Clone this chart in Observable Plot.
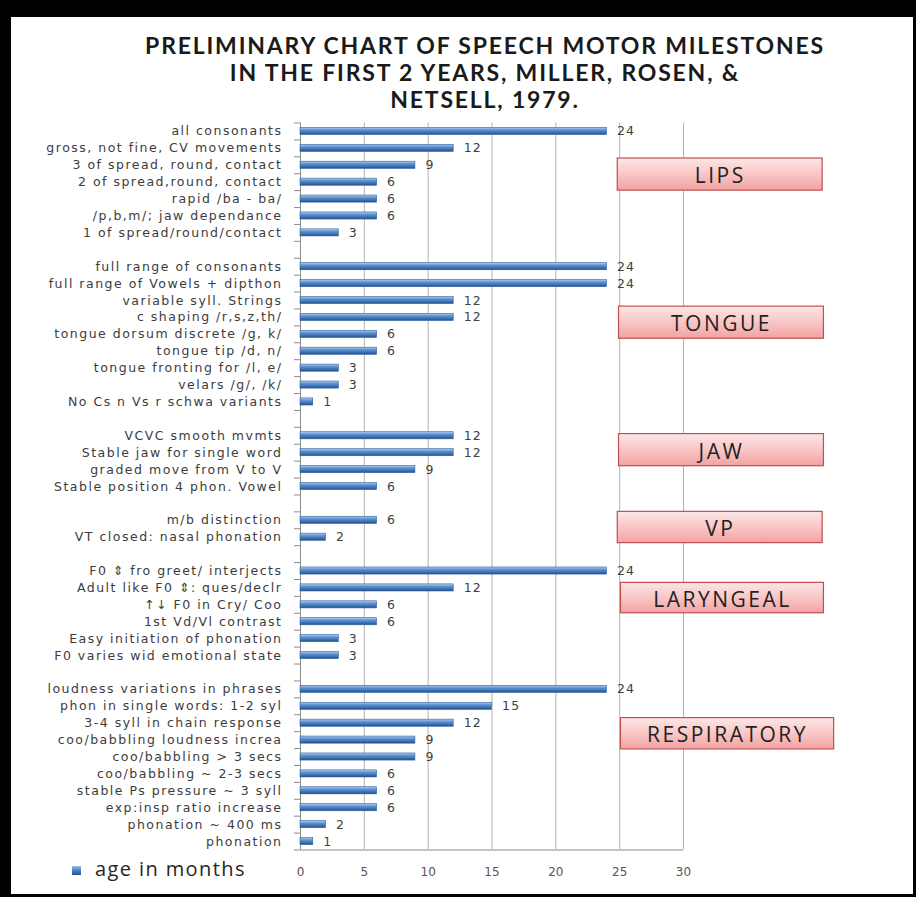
<!DOCTYPE html>
<html>
<head>
<meta charset="utf-8">
<script src="https://cdn.jsdelivr.net/npm/d3@7"></script>
<script src="https://cdn.jsdelivr.net/npm/@observablehq/plot@0.6"></script>
<style>
  html, body { margin: 0; padding: 0; background: #fff; }
  #page { position: relative; width: 916px; height: 897px; background: #000; overflow: hidden; }
  #inner { position: absolute; left: 11px; top: 17px; width: 902px; height: 877px; background: #fff; }
  #title { position: absolute; left: 30px; width: 910px; top: 32px; text-align: center;
           font-family: Lato, "Open Sans", sans-serif; font-weight: 700; font-size: 23px;
           color: #1a1a1a; letter-spacing: 1.8px; }
  #title div { height: 27px; line-height: 27px; }
  #chart { position: absolute; left: 10px; top: 110px; }
  #legend { position: absolute; left: 72px; top: 855px; font-family: "Open Sans", sans-serif;
            font-size: 20px; color: #262626; display: flex; align-items: center; letter-spacing: 1.4px; }
  #legend .sw { width: 9px; height: 9px; margin-right: 14px; margin-top: 3px;
                background: linear-gradient(#9cc0ea, #4a7fc0 50%, #24528a); }
</style>
</head>
<body>
<div id="page">
  <div id="inner"></div>
  <div id="title">
    <div>PRELIMINARY CHART OF SPEECH MOTOR MILESTONES</div>
    <div>IN THE FIRST 2 YEARS, MILLER, ROSEN, &amp;</div>
    <div>NETSELL, 1979.</div>
  </div>
  <div id="chart"></div>
  <div id="legend"><span class="sw"></span><span>age in months</span></div>
</div>
<script>
// ---- data ----
const groups = ["LIPS", "TONGUE", "JAW", "VP", "LARYNGEAL", "RESPIRATORY"];

const lipsLabels = ["all consonants", "gross, not fine, CV movements", "3 of spread, round, contact",
  "2 of spread,round, contact", "rapid /ba - ba/", "/p,b,m/; jaw dependance", "1 of spread/round/contact"];
const lipsValues = [24, 12, 9, 6, 6, 6, 3];

const tongueLabels = ["full range of consonants", "full range of Vowels + dipthon", "variable syll. Strings",
  "c shaping /r,s,z,th/", "tongue dorsum discrete /g, k/", "tongue tip /d, n/", "tongue fronting for /l, e/",
  "velars /g/, /k/", "No Cs n Vs r schwa variants"];
const tongueValues = [24, 24, 12, 12, 6, 6, 3, 3, 1];

const jawLabels = ["VCVC smooth mvmts", "Stable jaw for single word", "graded move from V to V",
  "Stable position 4 phon. Vowel"];
const jawValues = [12, 12, 9, 6];

const vpLabels = ["m/b distinction", "VT closed: nasal phonation"];
const vpValues = [6, 2];

const laryngealLabels = ["F0 \u21D5 fro greet/ interjects", "Adult like F0 \u21D5: ques/declr",
  "\u2191\u2193 F0 in Cry/ Coo", "1st Vd/Vl contrast", "Easy initiation of phonation",
  "F0 varies wid emotional state"];
const laryngealValues = [24, 12, 6, 6, 3, 3];

const respiratoryLabels = ["loudness variations in phrases", "phon in single words: 1-2 syl",
  "3-4 syll in chain response", "coo/babbling loudness increa", "coo/babbling > 3 secs",
  "coo/babbling ~ 2-3 secs", "stable Ps pressure ~ 3 syll", "exp:insp ratio increase",
  "phonation ~ 400 ms", "phonation"];
const respiratoryValues = [24, 15, 12, 9, 9, 6, 6, 6, 2, 1];

const xTicks = [0, 5, 10, 15, 20, 25, 30];
const seriesName = "age in months";

// ---- layout of the group boxes (offset from group's first row, in rows) ----
const boxLayout = {
  LIPS:        {dy: 1.6,  h: 1.9,  x1: 24.85, x2: 40.9},
  TONGUE:      {dy: 2.36, h: 1.9,  x1: 24.95, x2: 41.0},
  JAW:         {dy: -0.1, h: 1.9,  x1: 24.95, x2: 41.0},
  VP:          {dy: -0.5, h: 1.85, x1: 24.85, x2: 40.9},
  LARYNGEAL:   {dy: 0.7,  h: 1.8,  x1: 25.1,  x2: 41.0},
  RESPIRATORY: {dy: 1.7,  h: 1.85, x1: 25.1,  x2: 41.8}
};

// ---- build rows ----
const groupLabels = [lipsLabels, tongueLabels, jawLabels, vpLabels, laryngealLabels, respiratoryLabels];
const groupValues = [lipsValues, tongueValues, jawValues, vpValues, laryngealValues, respiratoryValues];
const rows = [];
const rowLabels = [];
const boxes = [];
let idx = 0;
groups.forEach((g, gi) => {
  const start = idx;
  groupLabels[gi].forEach((lab, k) => {
    rows.push({i: idx, label: lab, value: groupValues[gi][k], group: g});
    rowLabels[idx] = lab;
    idx++;
  });
  const L = boxLayout[g];
  boxes.push({name: g, x1: L.x1, x2: L.x2, y1: start + L.dy, y2: start + L.dy + L.h});
  if (gi < groups.length - 1) { rowLabels[idx] = ""; idx++; }
});
const nRows = idx;
const indices = d3.range(nRows);
const boundaries = d3.range(nRows + 1).map(k => k - 0.5);

const plot = Plot.plot({
  width: 903,
  height: 776,
  marginLeft: 290,
  marginRight: 230,
  marginTop: 12.5,
  marginBottom: 36.5,
  style: {background: "transparent", overflow: "visible", fontFamily: "DejaVu Sans"},
  x: {domain: [0, 30]},
  y: {domain: [-0.5, nRows - 0.5], reverse: true},
  marks: [
    Plot.ruleX(xTicks.filter(t => t > 0), {stroke: "#b3b3b3", strokeWidth: 1}),
    Plot.ruleY([nRows - 0.5], {stroke: "#8c8c8c", strokeWidth: 1}),
    Plot.ruleX([0], {stroke: "#8c8c8c", strokeWidth: 1}),
    Plot.axisX(xTicks, {tickSize: 0, tickPadding: 17, fontSize: 12, fill: "#555555", label: null}),
    Plot.axisY(boundaries, {tickSize: 6, tickFormat: () => "", stroke: "#8c8c8c", label: null}),
    Plot.axisY(indices, {tickSize: 0, tickPadding: 18, fontSize: 12.5, fill: "#3c3c3c",
      tickFormat: i => rowLabels[i], label: null}),
    Plot.rect(rows, {x1: 0, x2: "value", y1: d => d.i - 0.21, y2: d => d.i + 0.21,
      fill: "url(#barGrad)", stroke: "#2f5f99", strokeWidth: 0.6}),
    Plot.text(rows, {x: "value", y: "i", text: d => String(d.value), dx: 10, textAnchor: "start",
      fontSize: 12.5, fill: "#404040"}),
    Plot.rect(boxes, {x1: "x1", x2: "x2", y1: "y1", y2: "y2", fill: "url(#boxGrad)",
      stroke: "#c0504d", strokeWidth: 1.2}),
    Plot.text(boxes, {x: d => (d.x1 + d.x2) / 2, y: d => (d.y1 + d.y2) / 2, text: "name", dy: 2,
      fontSize: 21, fill: "#222222", fontFamily: "Open Sans"})
  ]
});

// gradients
const ns = "http://www.w3.org/2000/svg";
const defs = document.createElementNS(ns, "defs");
defs.innerHTML = `
  <linearGradient id="barGrad" x1="0" y1="0" x2="0" y2="1">
    <stop offset="0" stop-color="#b5d0f0"/>
    <stop offset="0.35" stop-color="#5f93d3"/>
    <stop offset="0.7" stop-color="#3d72b5"/>
    <stop offset="1" stop-color="#22508a"/>
  </linearGradient>
  <linearGradient id="boxGrad" x1="0" y1="0" x2="0" y2="1">
    <stop offset="0" stop-color="#fde6e6"/>
    <stop offset="0.5" stop-color="#f9c6c6"/>
    <stop offset="1" stop-color="#f2a2a2"/>
  </linearGradient>`;
plot.insertBefore(defs, plot.firstChild);

// letter spacing to mimic the horizontally stretched reference type
plot.querySelectorAll('g[aria-label="y-axis tick label"] text').forEach(t => t.style.letterSpacing = "1.5px");
plot.querySelectorAll('g[aria-label="text"] text').forEach(t => {
  t.style.letterSpacing = groups.includes(t.textContent) ? "2.5px" : "1.2px";
});
document.getElementById("chart").appendChild(plot);
</script>
</body>
</html>
